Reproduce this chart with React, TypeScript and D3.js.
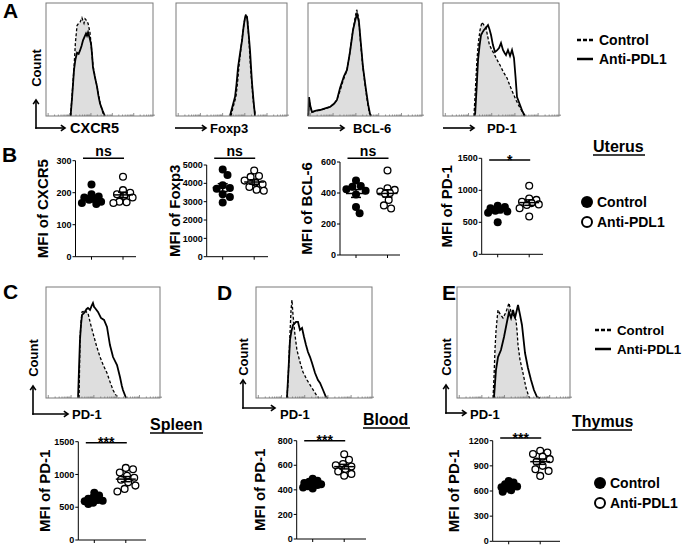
import React from 'react';
import * as d3 from 'd3';

type Pt = [number, number];

// ---------- flow histograms (x: % of log channel axis, y: % of max count) ----------
const cxcr5Control: Pt[] = [[23,0],[24.5,20],[26.2,43],[27.5,65],[29,80],[30.5,82],[31.8,83],[33.6,87],[35.5,82],[36.5,86],[37.4,85],[39.3,82],[41.1,74],[42.5,60],[43.9,45],[45.8,35],[47.7,26],[50.5,12],[52.5,5],[54.2,0]];
const cxcr5Anti: Pt[] = [[23,0],[24.5,18],[26.2,41],[27.5,50],[29,56],[30.5,55],[31.8,58],[33.2,62],[34.6,67],[36,70],[37.4,73],[38.3,71],[39.3,74],[40.5,70],[42.1,64],[43,55],[43.9,43],[45.8,34],[47.7,26],[49,18],[50.5,11],[52.8,5],[55,0]];
const foxp3Control: Pt[] = [[49.5,0],[51.5,8],[54,17],[55.5,30],[56.8,45],[58.5,60],[60,72],[61.5,83],[62.5,89],[63.5,90],[64.5,84],[66,62],[67,45],[68.2,30],[69.5,14],[71.5,0]];
const foxp3Anti: Pt[] = [[48.6,0],[50.5,7],[53.2,17],[54.5,28],[55.9,43],[57.8,56],[59.5,67],[61,80],[62.2,87],[63.2,88.5],[64,87.5],[65.5,72],[66.7,58],[67.6,43],[68.5,29],[69.8,14],[71.2,0]];
const bcl6Control: Pt[] = [[0.3,0],[0.9,17],[2,8],[3.5,3.5],[7,4.5],[10.5,5.3],[15,6.5],[19.3,8],[23,11],[25.4,14.5],[28,22],[31,32],[34,40],[35.5,48],[37,58],[38.5,70],[40,79],[41.5,88],[42.7,94],[43.6,91],[44.5,86],[46,66],[48,44],[50.5,24],[52.5,10],[54,2],[55,0]];
const bcl6Anti: Pt[] = [[0.3,0],[0.9,16.8],[2,9],[3.5,3.5],[7,4.8],[10.5,5.3],[15,6.8],[19.3,8],[23,11],[25.4,14.2],[28.1,24.8],[31.6,35.4],[34.2,40.7],[36.8,56.6],[39.5,76.1],[41.5,85],[43,90.3],[44.7,83.2],[46.5,62.8],[48.2,43.4],[50.9,23],[52.8,10],[54.4,1.8],[55.5,0]];
const pd1UterusControl: Pt[] = [[26.7,0],[28,25],[29.3,50],[30.5,65],[31.9,76],[33.6,83],[35.3,80.5],[37.1,77.9],[38.6,70],[40,63],[42.2,58.4],[45,53],[47,49],[49.1,45.1],[52,39],[55.2,33.6],[58,26],[60.3,20.4],[63,14],[66.4,7.1],[69,2.7],[70,0]];
const pd1UterusAnti: Pt[] = [[27.6,0],[29,25],[30.2,49.6],[31.5,62],[32.8,71.7],[34,74],[35.3,76.1],[37,78],[38.8,80.5],[40,77],[41.4,71.7],[43,63],[44.8,56.6],[46.5,58],[48.3,60.2],[50,64.6],[51.7,58.4],[53,56],[54.3,54],[56,58.4],[57.8,53.1],[59.5,58.4],[61.2,51.3],[62.5,35],[63.8,16.8],[66.4,9.7],[68.5,4],[70.7,0]];
const pd1SpleenControl: Pt[] = [[29,0],[29.4,25],[29.8,52.3],[30.7,68],[31.6,77.5],[32.8,78],[34.2,79.3],[35.5,77.5],[36.8,76.6],[39,67],[41.2,58.6],[44.3,47],[47.4,36.9],[50.5,29],[53.5,22.5],[56,15],[58.8,7.2],[61,3],[63.2,0.9],[64,0]];
const pd1SpleenAnti: Pt[] = [[28.1,0],[29,28],[29.8,52.3],[30.7,66],[31.6,74.8],[32.8,76],[34.2,77.5],[35.5,80],[36.8,81.1],[38.6,79.3],[40,83],[41.2,85.6],[42.2,82],[43,81.1],[45.6,77.5],[48.2,72.1],[50.9,70.3],[53.5,64],[56.1,47.7],[58.8,36.9],[62.3,29.7],[64.9,18.9],[66.5,11],[67.5,7.2],[70.2,0]];
const pd1BloodControl: Pt[] = [[26.7,0],[27.6,15],[28.4,34.2],[29.3,58],[30.2,79.3],[31,88.3],[31.9,74.8],[33.6,56.8],[35.3,43.2],[37.9,32.4],[40.5,23.4],[44,16.2],[48.3,9],[52.6,1.8],[54.3,0]];
const pd1BloodAnti: Pt[] = [[26.7,0],[28,25],[29.3,52.3],[30.5,60],[31.9,65.8],[33.2,67],[34.5,68.5],[36.2,68.5],[37.9,61.3],[39.7,63.1],[41.4,55],[43.1,47.7],[44.8,41.4],[46.6,36.9],[48.3,31.5],[50.9,22.5],[53.4,16.2],[55.2,13.5],[57.8,7.2],[60.3,0.9],[62.1,0]];
const pd1ThymusControl: Pt[] = [[31.9,0],[32.8,20],[33.6,43.2],[34.5,60],[35.4,70.3],[36.3,79.3],[38.1,75.7],[40.7,72.1],[43.4,77.5],[46,85.6],[47.8,77.5],[49.6,74.8],[52.2,70.3],[53.2,60],[54,47.7],[55.8,34.2],[58.4,22.5],[61.1,9],[63.7,0.9],[64.5,0]];
const pd1ThymusAnti: Pt[] = [[32.7,0],[34.5,25.2],[36.3,36.9],[38.9,43.2],[41.6,55],[44.2,68.5],[46,77.5],[47.8,72.1],[49.6,79.3],[51.3,72.1],[54,83.8],[55.8,74.8],[57.5,65.8],[60.2,40.5],[62.8,27],[65.5,16.2],[68.1,7.2],[70.8,0.9],[73.5,0]];

// ---------- MFI scatter data ----------
const groups = ['Control', 'Anti-PDL1'];
const uterusCxcr5Control = [226, 195, 188, 185, 180, 178, 172, 168, 165];
const uterusCxcr5Anti = [250, 208, 200, 195, 190, 185, 172, 170, 168];
const uterusFoxp3Control = [4750, 4450, 3900, 3750, 3700, 3400, 3250, 2950];
const uterusFoxp3Anti = [4700, 4400, 4350, 4150, 4050, 3950, 3800, 3650, 3600];
const uterusBcl6Control = [480, 445, 440, 425, 415, 390, 310, 270];
const uterusBcl6Anti = [545, 430, 420, 410, 400, 395, 355, 320, 300];
const uterusPd1Control = [760, 740, 720, 700, 680, 670, 650, 500];
const uterusPd1Anti = [1070, 870, 850, 820, 800, 780, 770, 720, 590];
const spleenPd1Control = [720, 680, 650, 630, 610, 600, 590, 570, 550];
const spleenPd1Anti = [1100, 1080, 1030, 980, 950, 920, 880, 830, 780, 740];
const bloodPd1Control = [490, 475, 465, 455, 450, 445, 440, 430, 420, 410];
const bloodPd1Anti = [690, 645, 610, 600, 590, 570, 550, 530, 515];
const thymusPd1Control = [720, 700, 680, 665, 655, 645, 630, 610, 590];
const thymusPd1Anti = [1080, 1060, 1040, 1010, 980, 950, 900, 860, 840, 780];

const ticksCxcr5 = [0, 100, 200, 300];
const ticksFoxp3 = [0, 1000, 2000, 3000, 4000, 5000];
const ticksBcl6 = [0, 200, 400, 600];
const ticksPd1Uterus = [0, 500, 1000, 1500];
const ticksPd1Spleen = [0, 500, 1000, 1500];
const ticksPd1Blood = [0, 200, 400, 600, 800];
const ticksPd1Thymus = [0, 300, 600, 900, 1200];

const FONT = "'Liberation Sans', Arial, Helvetica, sans-serif";

function Arrow({ x1, y1, x2, y2 }: { x1: number; y1: number; x2: number; y2: number }) {
  const ang = Math.atan2(y2 - y1, x2 - x1);
  const L = 5, a = 0.6;
  const p1 = [x2 - L * Math.cos(ang - a), y2 - L * Math.sin(ang - a)];
  const p2 = [x2 - L * Math.cos(ang + a), y2 - L * Math.sin(ang + a)];
  return (
    <g stroke="#000" strokeWidth={1.6} fill="none">
      <line x1={x1} y1={y1} x2={x2} y2={y2} />
      <path d={`M${p1[0]},${p1[1]}L${x2},${y2}L${p2[0]},${p2[1]}`} />
    </g>
  );
}

function Hist({ left, right, top, bottom, control, anti }: { left: number; right: number; top: number; bottom: number; control: Pt[]; anti: Pt[] }) {
  const x = d3.scaleLinear().domain([0, 100]).range([left, right]);
  const y = d3.scaleLinear().domain([0, 100]).range([bottom, top]);
  const line = d3.line<Pt>().x(d => x(d[0])).y(d => y(d[1]));
  const area = d3.area<Pt>().x(d => x(d[0])).y0(bottom).y1(d => y(d[1]));
  const ticks: { v: number; major: boolean }[] = [];
  for (let dec = 0; dec < 5; dec++) {
    for (let k = 1; k <= 9; k++) ticks.push({ v: 20 * (dec + Math.log10(k)) + 2, major: k === 1 });
  }
  return (
    <g>
      <path d={area(control) || ''} fill="#dedede" />
      <path d={line(anti) || ''} fill="none" stroke="#000" strokeWidth={1.8} />
      <path d={line(control) || ''} fill="none" stroke="#000" strokeWidth={1.3} strokeDasharray="3,2" />
      {ticks.map((t, i) => (
        <line key={i} x1={x(t.v)} x2={x(t.v)} y1={bottom} y2={bottom - (t.major ? 3 : 1.5)} stroke="#777" strokeWidth={0.8} />
      ))}
      <rect x={left} y={top} width={right - left} height={bottom - top} fill="none" stroke="#7a7a7a" strokeWidth={1} />
    </g>
  );
}

// simple beeswarm: offsets limited to +-maxOff, best available slot when crowded
function swarm(vals: number[], y: (v: number) => number, minD: number, step: number, maxOff: number) {
  const order = vals.map((v, i) => ({ v, i })).sort((a, b) => b.v - a.v);
  const placed: { x: number; y: number }[] = [];
  const out: number[] = new Array(vals.length).fill(0);
  const nMax = Math.floor(maxOff / step) * 2;
  for (const o of order) {
    const py = y(o.v);
    let best = 0, bestD = -1;
    for (let n = 0; n <= nMax; n++) {
      const off = n === 0 ? 0 : (n % 2 === 1 ? 1 : -1) * Math.ceil(n / 2) * step;
      const d = placed.length ? Math.min(...placed.map(p => Math.hypot(p.x - off, p.y - py))) : Infinity;
      if (d >= minD) { best = off; bestD = d; break; }
      if (d > bestD) { bestD = d; best = off; }
    }
    placed.push({ x: best, y: py });
    out[o.i] = best;
  }
  return out;
}

function Scatter({ ax, y0, yTop, max, ticks, control, anti, label, labelX, sig, sigY, xEnd, gaps }: any) {
  const y = d3.scaleLinear().domain([0, max]).range([y0, yTop]);
  const x = d3.scalePoint<string>().domain(groups).range([ax + 16, ax + 47.5]);
  const r = 4;
  const series = [control as number[], anti as number[]];
  const c1 = x(groups[0])!, c2 = x(groups[1])!;
  const sx1 = c1 - 8.5, sx2 = c2 + 1;
  const midY = (y0 + yTop) / 2;
  const isNs = sig === 'ns';
  return (
    <g fontFamily={FONT} fontWeight="bold">
      <line x1={ax} x2={ax} y1={y0} y2={yTop} stroke="#000" strokeWidth={1} />
      <line x1={ax} x2={xEnd} y1={y0} y2={y0} stroke="#000" strokeWidth={1} />
      {ticks.map((t: number) => (
        <g key={t}>
          <line x1={ax - 3} x2={ax} y1={y(t)} y2={y(t)} stroke="#000" strokeWidth={1} />
          <text x={ax - 4} y={y(t)} dy="0.35em" textAnchor="end" fontSize={9}>{t}</text>
        </g>
      ))}
      {groups.map(g => (
        <line key={g} x1={x(g)} x2={x(g)} y1={y0} y2={y0 + 3} stroke="#000" strokeWidth={1} />
      ))}
      <text transform={`translate(${labelX},${midY}) rotate(-90)`} dy="0.35em" textAnchor="middle" fontSize={15}>{label}</text>
      <line x1={sx1} x2={sx2} y1={sigY} y2={sigY} stroke="#000" strokeWidth={1.5} />
      <text x={(sx1 + sx2) / 2} y={isNs ? sigY - 2.5 : sigY + 4.5} textAnchor="middle" fontSize={14}>{sig}</text>
      {series.map((vals, si) => {
        const cx = x(groups[si])!;
        const offs = swarm(vals, y, gaps[si], 1.2, 10);
        const m = d3.mean(vals)!;
        const sem = (d3.deviation(vals) || 0) / Math.sqrt(vals.length);
        return (
          <g key={si}>
            {vals.map((v, i) => (
              <circle key={i} cx={cx + offs[i]} cy={y(v)} r={si === 0 ? r : r - 0.6}
                fill={si === 0 ? '#000' : '#fff'} stroke="#000" strokeWidth={si === 0 ? 0 : 1.3} />
            ))}
            <g stroke="#000" strokeWidth={1.5}>
              <line x1={cx - 10} x2={cx + 10} y1={y(m)} y2={y(m)} />
              <line x1={cx} x2={cx} y1={y(m - sem)} y2={y(m + sem)} />
              <line x1={cx - 5} x2={cx + 5} y1={y(m - sem)} y2={y(m - sem)} />
              <line x1={cx - 5} x2={cx + 5} y1={y(m + sem)} y2={y(m + sem)} />
            </g>
          </g>
        );
      })}
    </g>
  );
}

function LineLegend({ x, y, fs }: { x: number; y: number; fs: number }) {
  return (
    <g fontFamily={FONT} fontWeight="bold" fontSize={fs}>
      <line x1={x} x2={x + 16} y1={y} y2={y} stroke="#000" strokeWidth={2.5} strokeDasharray="4,2" />
      <text x={x + 22} y={y + 5}>Control</text>
      <line x1={x} x2={x + 16} y1={y + 19} y2={y + 19} stroke="#000" strokeWidth={2.5} />
      <text x={x + 22} y={y + 24}>Anti-PDL1</text>
    </g>
  );
}

function DotLegend({ x, y }: { x: number; y: number }) {
  return (
    <g fontFamily={FONT} fontWeight="bold" fontSize={14}>
      <circle cx={x} cy={y} r={6} fill="#000" />
      <text x={x + 10} y={y + 5}>Control</text>
      <circle cx={x} cy={y + 20} r={5} fill="#fff" stroke="#000" strokeWidth={2} />
      <text x={x + 10} y={y + 25}>Anti-PDL1</text>
    </g>
  );
}

function Title({ x, y, text, width }: { x: number; y: number; text: string; width: number }) {
  return (
    <g fontFamily={FONT} fontWeight="bold" fontSize={16}>
      <text x={x} y={y}>{text}</text>
      <line x1={x} x2={x + width} y1={y + 3} y2={y + 3} stroke="#000" strokeWidth={1.3} />
    </g>
  );
}

function CountAxis({ x, yCorner, xEnd, labelCenterY }: { x: number; yCorner: number; xEnd: number; labelCenterY: number }) {
  return (
    <g>
      <Arrow x1={x} y1={yCorner + 0.8} x2={x} y2={yCorner - 28} />
      <Arrow x1={x - 0.8} y1={yCorner} x2={xEnd} y2={yCorner} />
      <text transform={`translate(${x},${labelCenterY}) rotate(-90)`} dy="0.35em" textAnchor="middle"
        fontFamily={FONT} fontWeight="bold" fontSize={13}>Count</text>
    </g>
  );
}

function XLab({ x, y, text, fs = 13 }: { x: number; y: number; text: string; fs?: number }) {
  return <text x={x} y={y} fontFamily={FONT} fontWeight="bold" fontSize={fs}>{text}</text>;
}

function Letter({ x, y, t }: { x: number; y: number; t: string }) {
  return <text x={x} y={y} fontFamily={FONT} fontWeight="bold" fontSize={21}>{t}</text>;
}

const wideGaps = [7, 7];
const blobGaps = [4.6, 7];

export default function App() {
  return (
    <svg width={685} height={546} style={{ position: 'absolute', left: 0, top: 0, background: '#fff' }}>
      <rect width={685} height={546} fill="#fff" />
      {/* Panel A */}
      <Letter x={3} y={18} t="A" />
      <Hist left={46} right={153} top={3} bottom={116} control={cxcr5Control} anti={cxcr5Anti} />
      <Hist left={176} right={287} top={3} bottom={116} control={foxp3Control} anti={foxp3Anti} />
      <Hist left={308} right={422} top={3} bottom={116} control={bcl6Control} anti={bcl6Anti} />
      <Hist left={443} right={559} top={3} bottom={116} control={pd1UterusControl} anti={pd1UterusAnti} />
      <CountAxis x={36} yCorner={128} xEnd={65} labelCenterY={68} />
      <XLab x={70} y={133} text="CXCR5" fs={14.5} />
      <Arrow x1={175} y1={128} x2={206} y2={128} />
      <XLab x={210} y={133} text="Foxp3" />
      <Arrow x1={308} y1={128} x2={344} y2={128} />
      <XLab x={353} y={133} text="BCL-6" />
      <Arrow x1={443} y1={128} x2={474} y2={128} />
      <XLab x={487} y={133} text="PD-1" />
      <LineLegend x={577} y={40} fs={14} />

      {/* Panel B */}
      <Letter x={2} y={162} t="B" />
      <Scatter ax={75.5} y0={256.7} yTop={160.7} max={300} ticks={ticksCxcr5} control={uterusCxcr5Control} anti={uterusCxcr5Anti}
        label="MFI of CXCR5" labelX={43} sig="ns" sigY={158.3} xEnd={136} gaps={wideGaps} />
      <Scatter ax={206.7} y0={256.7} yTop={165} max={5000} ticks={ticksFoxp3} control={uterusFoxp3Control} anti={uterusFoxp3Anti}
        label="MFI of Foxp3" labelX={175} sig="ns" sigY={158.3} xEnd={268} gaps={wideGaps} />
      <Scatter ax={340} y0={255} yTop={162} max={600} ticks={ticksBcl6} control={uterusBcl6Control} anti={uterusBcl6Anti}
        label="MFI of BCL-6" labelX={307} sig="ns" sigY={158.3} xEnd={400} gaps={wideGaps} />
      <Scatter ax={481.7} y0={254.3} yTop={158.3} max={1500} ticks={ticksPd1Uterus} control={uterusPd1Control} anti={uterusPd1Anti}
        label="MFI of PD-1" labelX={447} sig="*" sigY={160} xEnd={543} gaps={wideGaps} />
      <Title x={593} y={152} text="Uterus" width={52} />
      <DotLegend x={587} y={202} />

      {/* Panel C */}
      <Letter x={3} y={299} t="C" />
      <Hist left={46} right={160} top={287} bottom={398} control={pd1SpleenControl} anti={pd1SpleenAnti} />
      <CountAxis x={33} yCorner={414} xEnd={68} labelCenterY={358} />
      <XLab x={72} y={419} text="PD-1" />
      <Title x={150} y={430} text="Spleen" width={53} />
      <Scatter ax={78.3} y0={540} yTop={441.7} max={1500} ticks={ticksPd1Spleen} control={spleenPd1Control} anti={spleenPd1Anti}
        label="MFI of PD-1" labelX={45} sig="***" sigY={442.7} xEnd={146} gaps={blobGaps} />

      {/* Panel D */}
      <Letter x={217} y={300} t="D" />
      <Hist left={256} right={372} top={287} bottom={398} control={pd1BloodControl} anti={pd1BloodAnti} />
      <CountAxis x={243} yCorner={408} xEnd={275} labelCenterY={357} />
      <XLab x={280} y={419} text="PD-1" />
      <Title x={363} y={425} text="Blood" width={47} />
      <Scatter ax={296.7} y0={539} yTop={440.7} max={800} ticks={ticksPd1Blood} control={bloodPd1Control} anti={bloodPd1Anti}
        label="MFI of PD-1" labelX={260} sig="***" sigY={440.7} xEnd={366} gaps={blobGaps} />

      {/* Panel E */}
      <Letter x={442} y={300} t="E" />
      <Hist left={457} right={570} top={287} bottom={398} control={pd1ThymusControl} anti={pd1ThymusAnti} />
      <CountAxis x={446} yCorner={413} xEnd={466} labelCenterY={357} />
      <XLab x={470} y={419} text="PD-1" />
      <LineLegend x={595} y={330} fs={13.3} />
      <Title x={572} y={427} text="Thymus" width={60} />
      <Scatter ax={492.7} y0={541.3} yTop={440.7} max={1200} ticks={ticksPd1Thymus} control={thymusPd1Control} anti={thymusPd1Anti}
        label="MFI of PD-1" labelX={454} sig="***" sigY={438} xEnd={560} gaps={blobGaps} />
      <DotLegend x={600} y={483} />
    </svg>
  );
}
